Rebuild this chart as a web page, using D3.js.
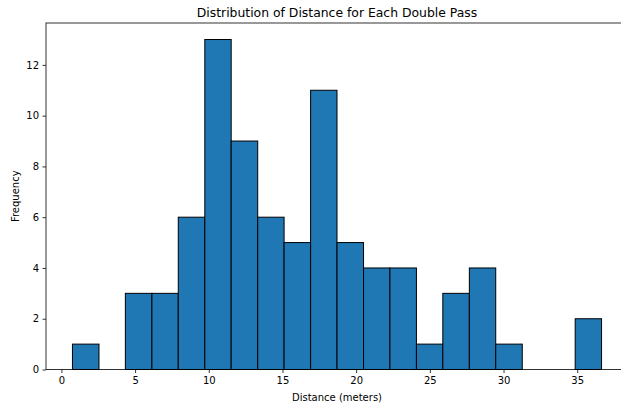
<!DOCTYPE html>
<meta charset="utf-8">
<title>Distribution of Distance for Each Double Pass</title>
<script src="https://d3js.org/d3.v7.min.js"></script>
<style>
  body { margin: 0; background: #fff; }
  text { font-family: "DejaVu Sans", sans-serif; fill: #000; }
</style>
<div id="my_dataviz"></div>
<script>
// histogram bin edges (meters) and counts
var binEdges = [0.75, 2.55, 4.34, 6.14, 7.93, 9.73, 11.52, 13.32, 15.11, 16.91, 18.70,
                20.50, 22.29, 24.09, 25.88, 27.68, 29.47, 31.27, 33.06, 34.86, 36.65];
var counts = [1, 0, 3, 3, 6, 13, 9, 6, 5, 11, 5, 4, 4, 1, 3, 4, 1, 0, 0, 2];
var xTicks = [0, 5, 10, 15, 20, 25, 30, 35];
var yTicks = [0, 2, 4, 6, 8, 10, 12];

var bins = counts.map(function(c, i) {
  return {x0: binEdges[i], x1: binEdges[i + 1], count: c};
});

// layout, the right side of the axes runs past the window edge
var W = 621, H = 406;
var margin = {top: 23, left: 46},
  width = 582,
  height = 346.5;

var svg = d3.select("#my_dataviz")
  .append("svg")
    .attr("width", W)
    .attr("height", H)
  .append("g")
    .attr("transform", "translate(" + margin.left + "," + margin.top + ")");

// matplotlib style 5% margins on x, 5% headroom on y
var span = binEdges[binEdges.length - 1] - binEdges[0];
var x = d3.scaleLinear()
  .domain([binEdges[0] - 0.05 * span, binEdges[binEdges.length - 1] + 0.05 * span])
  .range([0, width]);
var y = d3.scaleLinear()
  .domain([0, d3.max(counts) * 1.05])
  .range([height, 0]);

// bars
svg.selectAll("rect.bar")
  .data(bins.filter(function(d) { return d.count > 0; }))
  .enter().append("rect")
    .attr("class", "bar")
    .attr("x", function(d) { return x(d.x0); })
    .attr("y", function(d) { return y(d.count); })
    .attr("width", function(d) { return x(d.x1) - x(d.x0); })
    .attr("height", function(d) { return y(0) - y(d.count); })
    .style("fill", "#1f77b4")
    .style("stroke", "#000")
    .style("stroke-width", 1);

// axes
var xAxis = svg.append("g")
  .attr("transform", "translate(0," + height + ")")
  .call(d3.axisBottom(x).tickValues(xTicks).tickSize(3.5).tickPadding(3.5));
var yAxis = svg.append("g")
  .call(d3.axisLeft(y).tickValues(yTicks).tickSize(3.5).tickPadding(3.5));

[xAxis, yAxis].forEach(function(a) {
  a.select(".domain").remove();
  a.selectAll("line").style("stroke", "#000").style("stroke-width", 0.8);
  a.selectAll("text").style("font-size", "10px").style("font-family", "DejaVu Sans");
});

// spines
svg.append("rect")
  .attr("x", 0).attr("y", 0)
  .attr("width", width).attr("height", height)
  .style("fill", "none")
  .style("stroke", "#000")
  .style("stroke-width", 0.8);

// title and axis labels
svg.append("text")
  .attr("x", width / 2)
  .attr("y", -6)
  .style("text-anchor", "middle")
  .style("font-size", "12.4px")
  .text("Distribution of Distance for Each Double Pass");

svg.append("text")
  .attr("x", width / 2)
  .attr("y", height + 31)
  .style("text-anchor", "middle")
  .style("font-size", "10px")
  .text("Distance (meters)");

svg.append("text")
  .attr("transform", "translate(" + (-27) + "," + (height / 2) + ") rotate(-90)")
  .style("text-anchor", "middle")
  .style("font-size", "10px")
  .text("Frequency");
</script>
